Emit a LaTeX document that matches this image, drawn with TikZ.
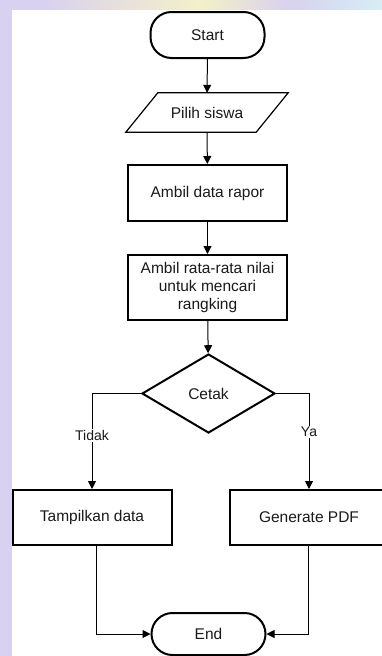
\documentclass[tikz,border=0pt]{standalone}
\usepackage{fontspec}
\setmainfont{Liberation Sans}
\usetikzlibrary{arrows.meta,shapes.geometric}
\definecolor{bglav}{HTML}{D8D1F0}
\definecolor{bgyel}{HTML}{F4F0C8}
\definecolor{bgcyan}{HTML}{D6EEF4}
\definecolor{txt}{HTML}{1A1A1A}
\tikzset{
  base/.style={font=\fontsize{15.5}{18}\selectfont, text=txt, align=center, inner sep=0pt},
  term/.style={base, draw, line width=2pt, rounded corners=21pt, minimum width=114pt},
  procbox/.style={base, draw, line width=2pt, minimum width=159pt},
  decis/.style={base, draw, line width=2pt, diamond, minimum width=133pt, minimum height=79pt, aspect=1.68},
  conn/.style={line width=1pt, -{Triangle[length=8pt,width=8pt]}},
  lbl/.style={font=\fontsize{14}{16}\selectfont, text=txt, fill=white, inner sep=1pt}
}
\begin{document}
\begin{tikzpicture}[x=1pt,y=-1pt]
\useasboundingbox (0,0) rectangle (382,656);
\fill[bglav] (0,0) rectangle (382,656);
\shade[left color=bglav, right color=bgyel] (40,0) rectangle (200,10);
\shade[left color=bgyel, right color=bglav] (200,0) rectangle (290,10);
\shade[left color=bglav, right color=bgcyan] (290,0) rectangle (382,10);
\fill[white] (12,10) rectangle (382,656);

\node[term, minimum height=46pt] (start) at (207.5,35) {Start};
\node[base, minimum width=130pt, minimum height=39pt] (pilih) at (207,112.5) {Pilih siswa};
\draw[line width=1.2pt] ([xshift=16pt]pilih.north west) -- ([xshift=16pt]pilih.north east)
  -- ([xshift=-16pt]pilih.south east) -- ([xshift=-16pt]pilih.south west) -- cycle;
\node[procbox, minimum height=56pt] (ambil) at (207.5,193) {Ambil data rapor};
\node[procbox, minimum height=65pt] (rata) at (207.5,287.5) {Ambil rata-rata nilai\\untuk mencari\\rangking};
\node[decis] (cetak) at (208.5,393.5) {Cetak};
\node[procbox, minimum height=55pt] (tamp) at (92,517.5) {Tampilkan data};
\node[procbox, minimum height=55pt] (gen) at (309,517.5) {Generate PDF};
\node[term, minimum height=42pt] (end) at (208.5,634) {End};

\draw[conn] (start) -- (pilih);
\draw[conn] (pilih) -- (ambil);
\draw[conn] (ambil) -- (rata);
\draw[conn] (rata) -- (cetak);
\draw[conn] (cetak.west) -| node[lbl, pos=0.72] {Tidak} (tamp.north);
\draw[conn] (cetak.east) -| node[lbl, pos=0.7] {Ya} (gen.north);
\draw[conn] ([xshift=4pt]tamp.south) |- (end.west);
\draw[conn] ([xshift=-1pt]gen.south) |- (end.east);
\end{tikzpicture}
\end{document}
